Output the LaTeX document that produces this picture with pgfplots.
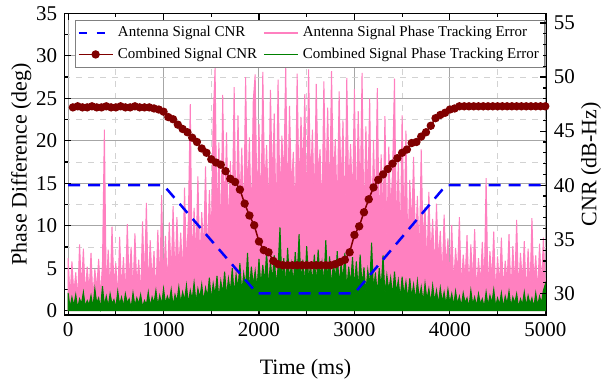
\documentclass[border=0pt]{standalone}
\usepackage{pgfplots}
\pgfplotsset{compat=1.18}
\usepackage{pgfplotstable}
\usepackage{fontspec}
\setmainfont{Liberation Serif}
\definecolor{cnrblue}{RGB}{0,0,255}
\definecolor{wine}{RGB}{128,0,0}
\definecolor{errpink}{RGB}{255,128,192}
\definecolor{errgreen}{RGB}{0,128,0}

\pgfplotstableread[row sep=\\]{
t p g\\
0 6.2 2.1\\ 20 1.5 0.4\\ 40 5.8 1.6\\ 60 2.0 0.6\\ 80 4.5 1.9\\
100 1.2 0.3\\ 120 7.8 1.4\\ 140 2.5 0.8\\ 160 7.3 2.2\\ 180 1.8 0.5\\
200 5.2 1.2\\ 220 2.2 0.7\\ 240 6.8 1.8\\ 260 1.4 0.4\\ 280 4.9 2.6\\
300 2.6 0.9\\ 320 6.1 1.5\\ 340 1.7 0.3\\ 360 5.5 2.9\\ 380 21.3 0.6\\
400 2.1 1.7\\ 420 7.2 0.5\\ 440 1.9 2.0\\ 460 9.9 0.8\\ 480 2.8 1.3\\
500 5.6 0.4\\ 520 1.3 2.3\\ 540 8.7 0.7\\ 560 2.4 1.6\\ 580 6.3 0.5\\
600 1.6 2.0\\ 620 10.2 0.9\\ 640 3.1 1.4\\ 660 7.5 0.3\\ 680 2.0 2.1\\
700 9.1 0.6\\ 720 2.7 1.5\\ 740 6.0 0.8\\ 760 1.5 1.9\\ 780 10.5 0.4\\
800 3.0 1.2\\ 820 12.7 0.7\\ 840 2.2 2.2\\ 860 8.3 0.5\\ 880 3.4 1.6\\
900 7.0 0.9\\ 920 1.8 2.4\\ 940 9.5 0.6\\ 960 2.9 1.8\\ 980 13.6 0.7\\
1000 3.2 2.6\\ 1020 8.8 0.8\\ 1040 2.6 1.7\\ 1060 10.4 1.0\\ 1080 4.0 2.5\\
1100 12.3 0.6\\ 1120 3.5 1.9\\ 1140 11.0 1.1\\ 1160 4.8 2.8\\ 1180 9.2 0.9\\
1200 3.9 2.2\\ 1220 14.5 1.2\\ 1240 5.1 3.0\\ 1260 10.8 0.8\\ 1280 24.3 2.4\\
1300 4.6 1.3\\ 1320 12.1 3.3\\ 1340 6.0 1.0\\ 1360 15.8 2.6\\ 1380 5.2 1.5\\
1400 11.6 3.1\\ 1420 7.0 1.1\\ 1440 17.0 2.7\\ 1460 5.5 1.6\\ 1480 14.2 3.9\\
1500 8.0 1.3\\ 1520 22.5 3.2\\ 1540 28.6 1.8\\ 1560 9.5 4.1\\ 1580 19.8 1.4\\
1600 7.2 3.5\\ 1620 25.4 2.0\\ 1640 10.3 4.6\\ 1660 21.0 1.7\\ 1680 8.8 3.8\\
1700 17.6 2.2\\ 1720 11.4 5.0\\ 1740 26.3 1.9\\ 1760 9.0 4.3\\ 1780 23.0 2.5\\
1800 12.5 5.6\\ 1820 19.2 2.1\\ 1840 10.1 4.4\\ 1860 27.5 2.8\\ 1880 13.0 6.8\\
1900 20.4 2.4\\ 1920 9.8 5.2\\ 1940 24.7 3.0\\ 1960 27.8 4.7\\ 1980 11.5 2.6\\
2000 22.0 6.1\\ 2020 10.6 2.9\\ 2040 28.1 5.4\\ 2060 13.8 3.3\\ 2080 19.5 7.0\\
2100 11.2 2.7\\ 2120 26.0 5.8\\ 2140 14.5 3.5\\ 2160 23.2 6.5\\ 2180 9.7 3.0\\
2200 27.2 5.1\\ 2220 12.8 9.8\\ 2240 20.6 3.4\\ 2260 15.0 6.2\\ 2280 28.9 2.8\\
2300 11.9 7.4\\ 2320 24.1 3.6\\ 2340 14.2 5.5\\ 2360 18.7 3.1\\ 2380 10.4 6.9\\
2400 27.9 3.8\\ 2420 13.3 9.0\\ 2440 22.8 3.2\\ 2460 16.1 6.0\\ 2480 25.5 2.9\\
2500 11.0 7.6\\ 2520 28.4 3.7\\ 2540 14.8 5.3\\ 2560 21.3 3.3\\ 2580 12.2 6.6\\
2600 26.7 2.8\\ 2620 15.6 7.2\\ 2640 19.0 3.9\\ 2660 10.9 5.7\\ 2680 27.0 3.0\\
2700 13.7 8.3\\ 2720 23.9 3.5\\ 2740 12.0 6.4\\ 2760 28.2 2.7\\ 2780 15.3 5.9\\
2800 20.2 3.4\\ 2820 11.5 7.0\\ 2840 25.8 2.9\\ 2860 13.9 5.6\\ 2880 22.4 3.6\\
2900 10.3 6.8\\ 2920 27.4 2.5\\ 2940 14.1 5.2\\ 2960 19.6 3.1\\ 2980 12.6 6.3\\
3000 26.1 2.7\\ 3020 10.8 5.8\\ 3040 23.5 2.4\\ 3060 12.4 6.6\\ 3080 28.0 3.0\\
3100 9.9 5.1\\ 3120 21.7 2.2\\ 3140 13.2 4.8\\ 3160 25.0 2.9\\ 3180 8.6 8.0\\
3200 20.1 2.3\\ 3220 11.3 4.5\\ 3240 26.2 2.0\\ 3260 9.4 5.0\\ 3280 18.4 2.6\\
3300 10.7 6.5\\ 3320 22.9 1.9\\ 3340 8.2 4.2\\ 3360 19.3 2.4\\ 3380 11.8 3.9\\
3400 16.5 1.7\\ 3420 27.3 4.6\\ 3440 9.1 2.1\\ 3460 17.8 3.6\\ 3480 7.6 1.5\\
3500 23.0 4.0\\ 3520 8.9 1.8\\ 3540 21.2 3.4\\ 3560 6.8 1.3\\ 3580 15.4 3.8\\
3600 9.6 1.6\\ 3620 18.1 3.1\\ 3640 7.3 1.2\\ 3660 13.5 3.5\\ 3680 5.9 1.4\\
3700 19.0 2.8\\ 3720 7.8 1.0\\ 3740 12.2 3.2\\ 3760 5.0 1.3\\ 3780 14.0 2.6\\
3800 6.2 0.9\\ 3820 10.8 3.0\\ 3840 4.4 1.1\\ 3860 12.6 2.4\\ 3880 5.7 0.8\\
3900 9.4 2.7\\ 3920 3.8 1.0\\ 3940 11.3 2.2\\ 3960 4.9 0.7\\ 3980 8.5 2.5\\
4000 3.5 0.9\\ 4020 10.1 2.0\\ 4040 2.8 0.6\\ 4060 7.4 2.3\\ 4080 4.1 0.8\\
4100 11.0 1.7\\ 4120 2.4 0.5\\ 4140 6.6 2.1\\ 4160 3.7 0.9\\ 4180 8.9 1.5\\
4200 2.2 0.4\\ 4220 7.8 2.4\\ 4240 3.3 0.7\\ 4260 9.6 1.6\\ 4280 1.9 0.5\\
4300 6.2 2.0\\ 4320 3.0 0.8\\ 4340 8.1 1.4\\ 4360 2.6 0.4\\ 4380 15.6 2.2\\
4400 2.0 0.6\\ 4420 7.0 1.8\\ 4440 3.6 0.9\\ 4460 9.3 2.5\\ 4480 1.7 0.5\\
4500 6.4 1.5\\ 4520 2.9 0.7\\ 4540 8.6 2.1\\ 4560 2.3 0.4\\ 4580 5.9 1.7\\
4600 3.4 0.8\\ 4620 9.0 2.3\\ 4640 1.8 0.5\\ 4660 7.6 1.6\\ 4680 2.7 0.9\\
4700 10.7 2.0\\ 4720 2.1 0.4\\ 4740 6.8 1.4\\ 4760 3.2 0.7\\ 4780 8.2 2.2\\
4800 1.6 0.5\\ 4820 7.3 1.8\\ 4840 2.5 0.8\\ 4860 10.9 1.5\\ 4880 3.1 0.4\\
4900 6.5 2.1\\ 4920 2.0 0.6\\ 4940 7.9 1.7\\ 4960 2.8 0.9\\ 4980 8.6 2.4\\
5000 3.0 3.1\\
}\errdata

\pgfplotsset{
  common/.style={
    width=241.2pt, height=150.85pt, scale only axis,
    xmin=-40, xmax=5015,
    /pgf/number format/assume math mode=true,
    /pgf/number format/1000 sep={},
    tick label style={font=\fontsize{10.5}{12}\selectfont},
    label style={font=\fontsize{11}{13}\selectfont},
    major tick length=3.5pt, minor tick length=2pt,
    every tick/.style={black, line width=0.6pt},
    axis line style={line width=0.7pt},
  }
}

\begin{document}
\begin{tikzpicture}
\begin{axis}[common,
  ymin=-0.5, ymax=35,
  xtick={0,1000,...,5000}, minor x tick num=1,
  ytick={0,5,...,35}, minor y tick num=1,
  ytick pos=left,
  grid=both,
  major grid style={gray!70, line width=0.5pt},
  minor grid style={gray!35, dashed, line width=0.4pt},
  xlabel={Time (ms)}, ylabel={Phase Difference (deg)},
  xlabel style={at={(axis description cs:0.5,-0.179)}, anchor=center},
  ylabel style={at={(axis description cs:-0.089,0.5)}, anchor=center},
  legend style={at={(axis description cs:0.022,0.978)}, anchor=north west,
    draw=gray, fill=white, font=\fontsize{7.5}{9}\selectfont,
    inner sep=1pt, /tikz/every even column/.append style={column sep=1pt}},
  legend columns=2, legend cell align=left,
]
\addlegendimage{cnrblue, line width=1.25pt, dash pattern=on 4pt off 5pt}
\addlegendentry{Antenna Signal CNR}
\addlegendimage{errpink, line width=0.75pt}
\addlegendentry{Antenna Signal Phase Tracking Error}
\addlegendimage{wine, line width=0.75pt, mark=*, mark size=1.7pt, mark options={fill=wine}}
\addlegendentry{Combined Signal CNR}
\addlegendimage{errgreen, line width=0.75pt}
\addlegendentry{Combined Signal Phase Tracking Error}
\addplot[draw=errpink, fill=errpink, line width=0.5pt, forget plot] table[x=t, y=p]{\errdata} \closedcycle;
\addplot[draw=errgreen, fill=errgreen, line width=0.5pt, forget plot] table[x=t, y=g]{\errdata} \closedcycle;
\end{axis}
\begin{axis}[common,
  ymin=28, ymax=55.9,
  axis y line*=right, axis x line=none,
  ytick={30,35,...,55}, minor y tick num=4,
  ylabel={CNR (dB-Hz)},
  ylabel style={at={(axis description cs:1.092,0.5)}, anchor=center},
]
\addplot[cnrblue, line width=1.25pt, dash pattern=on 6pt off 4pt] coordinates {(0,40) (1000,40) (1980,30) (3000,30) (3960,40) (5000,40)};
\addplot[wine, line width=0.75pt, mark=*, mark size=1.7pt, mark options={fill=wine, draw=wine}] coordinates {
(50,47.2) (100,47.3) (150,47.2) (200,47.2) (250,47.3) (300,47.2) (350,47.2) (400,47.3) (450,47.2) (500,47.2)
(550,47.3) (600,47.2) (650,47.2) (700,47.3) (750,47.2) (800,47.2) (850,47.2) (900,47.1) (950,47.0) (1000,46.8)
(1050,46.3) (1100,46.1) (1150,45.6) (1200,45.2) (1250,44.9) (1300,44.4) (1350,44.0) (1400,43.4) (1450,43.0) (1500,42.4)
(1550,42.1) (1600,41.9) (1650,41.3) (1700,40.6) (1750,40.3) (1800,39.6) (1850,38.3) (1900,37.2) (1950,36.3) (2000,34.8)
(2050,34.0) (2100,33.8) (2150,33.0) (2200,32.7) (2250,32.6) (2300,32.6) (2350,32.6) (2400,32.6) (2450,32.6) (2500,32.6)
(2550,32.6) (2600,32.6) (2650,32.6) (2700,32.6) (2750,32.6) (2800,32.7) (2850,32.9) (2900,33.1) (2950,33.8) (3000,35.4)
(3050,36.2) (3100,37.5) (3150,38.7) (3200,39.8) (3250,40.5) (3300,41.0) (3350,41.5) (3400,42.0) (3450,42.5) (3500,43.0)
(3550,43.3) (3600,43.9) (3650,44.0) (3700,44.5) (3750,44.9) (3800,45.5) (3850,46.2) (3900,46.5) (3950,46.7) (4000,47.0)
(4050,47.1) (4100,47.3) (4150,47.3) (4200,47.3) (4250,47.3) (4300,47.3) (4350,47.3) (4400,47.3) (4450,47.3) (4500,47.3)
(4550,47.3) (4600,47.3) (4650,47.3) (4700,47.3) (4750,47.3) (4800,47.3) (4850,47.3) (4900,47.3) (4950,47.3) (5000,47.3)
};
\end{axis}
\pgfresetboundingbox
\useasboundingbox (-32.15pt,-34.5pt) rectangle (269.85pt,157.5pt);
\end{tikzpicture}
\end{document}
